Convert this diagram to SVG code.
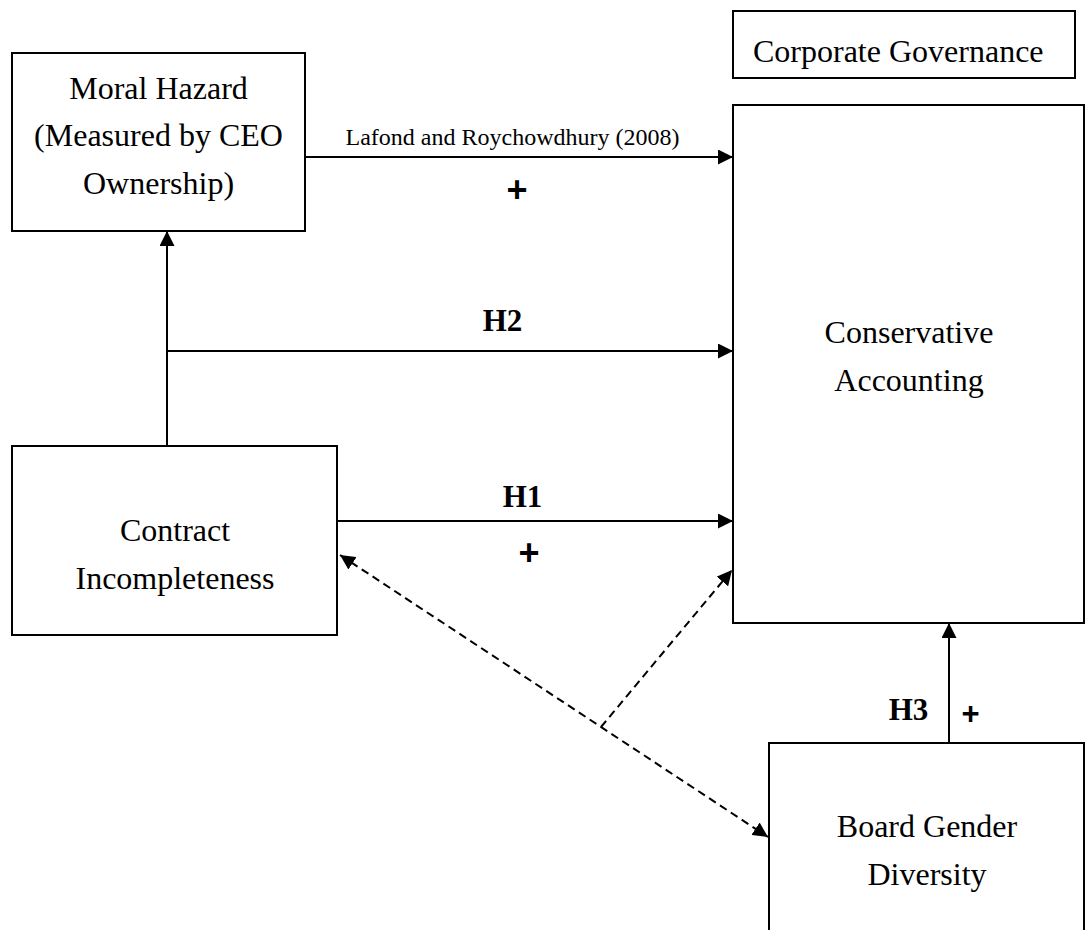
<svg xmlns="http://www.w3.org/2000/svg" width="1086" height="930" viewBox="0 0 1086 930">
<style>
.box{fill:#fff;stroke:#000;stroke-width:2}
.t{font-family:"Liberation Serif","Times New Roman",serif;font-size:32px;fill:#000;text-anchor:middle}
.h{font-family:"Liberation Serif","Times New Roman",serif;font-size:31px;font-weight:bold;fill:#000;text-anchor:middle}
.p{font-family:"Liberation Sans",Arial,sans-serif;font-weight:bold;fill:#000;text-anchor:middle}
.c{fill:none;stroke:#000;stroke-width:2}
.d{fill:none;stroke:#000;stroke-width:2;stroke-dasharray:8 5}
</style>
<defs>
<marker id="ah" viewBox="0 0 15 15" refX="15" refY="7.5" markerWidth="15" markerHeight="15" markerUnits="userSpaceOnUse" orient="auto-start-reverse">
<path d="M0,0 L15,7.5 L0,15 Z" fill="#000"/>
</marker>
</defs>
<rect width="1086" height="930" fill="#fff"/>
<g id="corporate-governance">
<rect class="box" x="733" y="11" width="342" height="67"/>
<text class="t" x="753" y="62" style="text-anchor:start">Corporate Governance</text>
</g>
<g id="moral-hazard">
<rect class="box" x="12" y="53" width="293" height="178"/>
<text class="t" x="158.5" y="99">Moral Hazard</text>
<text class="t" x="158.5" y="146">(Measured by CEO</text>
<text class="t" x="158.5" y="194">Ownership)</text>
</g>
<g id="conservative-accounting">
<rect class="box" x="733" y="105" width="351" height="518"/>
<text class="t" x="909" y="343">Conservative</text>
<text class="t" x="909" y="391">Accounting</text>
</g>
<g id="contract-incompleteness">
<rect class="box" x="12" y="446" width="325" height="189"/>
<text class="t" x="175" y="541">Contract</text>
<text class="t" x="175" y="589">Incompleteness</text>
</g>
<g id="board-gender-diversity">
<rect class="box" x="769" y="743" width="315" height="200"/>
<text class="t" x="927" y="837">Board Gender</text>
<text class="t" x="927" y="885">Diversity</text>
</g>
<g id="connectors">
<line class="c" x1="305" y1="157" x2="733" y2="157" marker-end="url(#ah)"/>
<line class="c" x1="167" y1="446" x2="167" y2="231" marker-end="url(#ah)"/>
<line class="c" x1="167" y1="351" x2="733" y2="351" marker-end="url(#ah)"/>
<line class="c" x1="337" y1="521" x2="733" y2="521" marker-end="url(#ah)"/>
<line class="c" x1="949" y1="743" x2="949" y2="623" marker-end="url(#ah)"/>
<line class="d" x1="340" y1="555" x2="768" y2="837" marker-start="url(#ah)" marker-end="url(#ah)"/>
<line class="d" x1="601" y1="727" x2="732" y2="570" marker-end="url(#ah)"/>
<text x="512.5" y="145" style="font-family:'Liberation Serif','Times New Roman',serif;font-size:24px;fill:#000;text-anchor:middle">Lafond and Roychowdhury (2008)</text>
<text class="p" x="517" y="202" style="font-size:36px">+</text>
<text class="h" x="502.5" y="331">H2</text>
<text class="h" x="522.5" y="507">H1</text>
<text class="p" x="529" y="565" style="font-size:36px">+</text>
<text class="h" x="908.5" y="720">H3</text>
<text class="p" x="970.5" y="724" style="font-size:31px">+</text>
</g>
</svg>
